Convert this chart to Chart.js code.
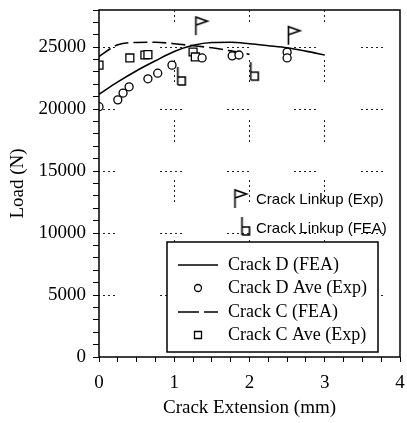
<!DOCTYPE html>
<html>
<head>
<meta charset="utf-8">
<script src="https://cdn.jsdelivr.net/npm/chart.js@4.4.0/dist/chart.umd.min.js"></script>
<style>
  html, body { margin: 0; padding: 0; background: #fff; }
  canvas { display: block; }
</style>
</head>
<body>
<canvas id="chart" width="407" height="423"></canvas>
<script>
// crack extension (mm) vs load (N)
var dFeaExt = [0, 0.25, 0.5, 0.75, 1.0, 1.25, 1.5, 1.75, 2.0, 2.25, 2.5, 2.75, 3.0];
var dFeaLoad = [21200, 22200, 23100, 23900, 24650, 25150, 25380, 25400, 25280, 25120, 24950, 24680, 24370];

var cFeaExt = [0, 0.25, 0.5, 0.75, 1.0, 1.25, 1.5, 1.75, 2.0];
var cFeaLoad = [24250, 25200, 25380, 25400, 25280, 25120, 24950, 24700, 24420];

var dExpExt = [0, 0.25, 0.32, 0.40, 0.65, 0.78, 0.97, 1.37, 1.77, 1.86, 2.50, 2.50];
var dExpLoad = [20200, 20750, 21300, 21800, 22450, 22900, 23550, 24130, 24300, 24370, 24600, 24130];

var cExpExt = [0, 0.41, 0.61, 0.65, 1.25, 1.28];
var cExpLoad = [23550, 24130, 24370, 24400, 24610, 24210];

// linkup markers (base of the symbol)
var linkExpExt = [1.28, 2.51];
var linkExpLoad = [25970, 25200];
var linkFeaExt = [1.04, 2.01];
var linkFeaLoad = [21950, 22340];

var xLabels = [0, 1, 2, 3, 4];
var yLabels = [0, 5000, 10000, 15000, 20000, 25000];

function pts(xs, ys) {
  return xs.map(function (x, i) { return { x: x, y: ys[i] }; });
}

// small drawn symbols, the base of the pole sits at the canvas centre
function makeIcon(kind) {
  var c = document.createElement('canvas');
  c.width = 30; c.height = 44;
  var g = c.getContext('2d');
  g.strokeStyle = '#000';
  g.lineWidth = 1.6;
  g.beginPath();
  g.moveTo(15.5, 22); g.lineTo(15.5, 4);
  if (kind === 'flag') {
    g.lineTo(27, 8); g.lineTo(15.5, 12);
  } else {
    g.moveTo(15.5, 14); g.lineTo(23, 14); g.lineTo(23, 22); g.lineTo(15.5, 22);
  }
  g.stroke();
  return c;
}
var flagIcon = makeIcon('flag');
var bIcon = makeIcon('b');

var serif = 'Liberation Serif';

var frameAndLegend = {
  id: 'frameAndLegend',
  afterDatasetsDraw: function (chart) {
    var ctx = chart.ctx, a = chart.chartArea;
    ctx.save();
    ctx.strokeStyle = '#000';
    ctx.lineWidth = 1.5;
    ctx.strokeRect(a.left, a.top, a.right - a.left, a.bottom - a.top);

    // linkup notes
    ctx.drawImage(flagIcon, 235 - 15.5, 208 - 22);
    ctx.drawImage(bIcon, 242 - 15.5, 235 - 22);
    ctx.fillStyle = '#000';
    ctx.font = '15px "Liberation Sans"';
    ctx.textBaseline = 'middle';
    ctx.textAlign = 'left';
    ctx.fillText('Crack Linkup (Exp)', 256, 200);
    ctx.fillText('Crack Linkup (FEA)', 256, 229);

    // legend box
    var bx = 167, by = 242, bw = 211, bh = 110;
    ctx.fillStyle = '#fff';
    ctx.fillRect(bx, by, bw, bh);
    ctx.strokeRect(bx, by, bw, bh);
    var ds = chart.data.datasets;
    var rows = [265, 288, 312, 335];
    ctx.font = '18px "' + serif + '"';
    for (var i = 0; i < 4; i++) {
      var d = ds[i], y = rows[i];
      ctx.strokeStyle = '#000';
      if (d.showLine === false) {
        ctx.lineWidth = 1.3;
        ctx.setLineDash([]);
        ctx.beginPath();
        if (d.pointStyle === 'rect') ctx.rect(194.5, y - 3.5, 7, 7);
        else ctx.arc(198, y, 3.5, 0, Math.PI * 2);
        ctx.stroke();
      } else {
        ctx.lineWidth = d.borderWidth;
        ctx.setLineDash(d.borderDash ? [21, 5] : []);
        ctx.beginPath();
        ctx.moveTo(178, y); ctx.lineTo(218, y);
        ctx.stroke();
        ctx.setLineDash([]);
      }
      ctx.fillStyle = '#000';
      ctx.fillText(d.label, 228, y);
    }
    ctx.restore();
  }
};

new Chart(document.getElementById('chart'), {
  type: 'line',
  data: {
    datasets: [
      {
        label: 'Crack D (FEA)',
        data: pts(dFeaExt, dFeaLoad),
        borderColor: '#000',
        borderWidth: 1.6,
        pointRadius: 0,
        cubicInterpolationMode: 'monotone',
        fill: false
      },
      {
        label: 'Crack D Ave (Exp)',
        data: pts(dExpExt, dExpLoad),
        showLine: false,
        pointStyle: 'circle',
        pointRadius: 4,
        pointBorderWidth: 1.3,
        pointBorderColor: '#000',
        pointBackgroundColor: '#fff'
      },
      {
        label: 'Crack C (FEA)',
        data: pts(cFeaExt, cFeaLoad),
        borderColor: '#000',
        borderWidth: 1.6,
        borderDash: [14, 5],
        pointRadius: 0,
        cubicInterpolationMode: 'monotone',
        fill: false
      },
      {
        label: 'Crack C Ave (Exp)',
        data: pts(cExpExt, cExpLoad),
        showLine: false,
        pointStyle: 'rect',
        pointRadius: 5.6,
        pointBorderWidth: 1.3,
        pointBorderColor: '#000',
        pointBackgroundColor: '#fff'
      },
      {
        label: 'Crack Linkup (Exp)',
        data: pts(linkExpExt, linkExpLoad),
        showLine: false,
        pointStyle: flagIcon
      },
      {
        label: 'Crack Linkup (FEA)',
        data: pts(linkFeaExt, linkFeaLoad),
        showLine: false,
        pointStyle: bIcon
      }
    ]
  },
  options: {
    responsive: false,
    animation: false,
    layout: { padding: { top: 10, right: 7, left: 0, bottom: 0 } },
    plugins: {
      legend: { display: false },
      tooltip: { enabled: false }
    },
    scales: {
      x: {
        type: 'linear',
        min: 0,
        max: 4,
        afterFit: function (s) {
          s.height = 66;
          s.paddingLeft = 0;
          s.paddingRight = 0;
        },
        ticks: {
          stepSize: 0.25,
          autoSkip: false,
          maxRotation: 0,
          padding: 10,
          color: '#000',
          font: { family: serif, size: 19 },
          callback: function (v) { return xLabels.indexOf(v) >= 0 ? String(v) : ''; }
        },
        grid: {
          color: function (c) {
            var v = c.tick && c.tick.value;
            return (v > 0 && v < 4 && v % 1 === 0) ? '#222' : 'rgba(0,0,0,0)';
          },
          tickColor: '#000',
          tickLength: 5,
          lineWidth: 1
        },
        border: { display: false, dash: [2, 3, 2, 3, 2, 3, 2, 3, 2, 38], dashOffset: 10 },
        title: {
          display: true,
          text: 'Crack Extension (mm)',
          color: '#000',
          font: { family: serif, size: 19 },
          padding: { top: 0, bottom: 4 }
        }
      },
      y: {
        type: 'linear',
        min: 0,
        max: 28000,
        afterFit: function (s) {
          s.width = 99;
          s.paddingTop = 0;
          s.paddingBottom = 0;
        },
        ticks: {
          stepSize: 1000,
          autoSkip: false,
          padding: 7,
          color: '#000',
          font: { family: serif, size: 19 },
          callback: function (v) { return yLabels.indexOf(v) >= 0 ? String(v) : ''; }
        },
        grid: {
          color: function (c) {
            var v = c.tick && c.tick.value;
            return (v > 0 && v < 28000 && v % 5000 === 0) ? '#222' : 'rgba(0,0,0,0)';
          },
          tickColor: '#000',
          tickLength: 6,
          lineWidth: 1
        },
        border: { display: false, dash: [2, 3, 2, 3, 2, 3, 2, 3, 2, 45], dashOffset: 6 },
        title: {
          display: true,
          text: 'Load (N)',
          color: '#000',
          font: { family: serif, size: 19 },
          padding: { top: 7, bottom: 0 }
        }
      }
    }
  },
  plugins: [frameAndLegend]
});
</script>
</body>
</html>
